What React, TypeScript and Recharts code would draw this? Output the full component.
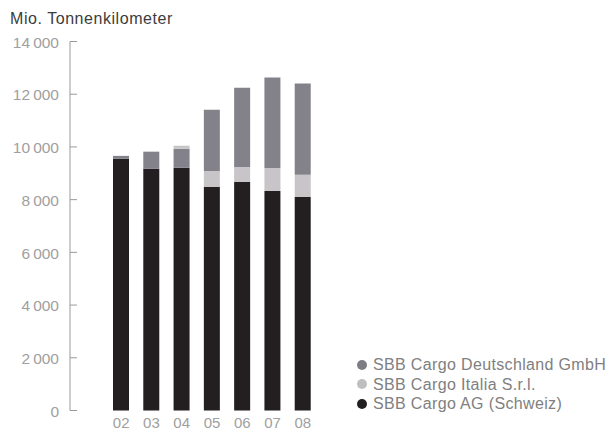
import React from 'react';
import { BarChart, Bar, XAxis, YAxis } from 'recharts';

const years = ['02', '03', '04', '05', '06', '07', '08'];
const schweiz = [9550, 9170, 9210, 8480, 8670, 8330, 8100];
const italia = [0, 0, 0, 610, 570, 870, 840];
const deutschland = [110, 650, 720, 2320, 3010, 3430, 3470];
const italiaTop = [0, 0, 115, 0, 0, 0, 0];
const yTicks = [0, 2000, 4000, 6000, 8000, 10000, 12000, 14000];

const seriesNames = ['SBB Cargo Deutschland GmbH', 'SBB Cargo Italia S.r.l.', 'SBB Cargo AG (Schweiz)'];
const COLORS = { schweiz: '#231f20', italia: '#c7c5c7', deutschland: '#838189' };
const legendColors = ['#7e7d83', '#c0bfc0', '#231f20'];

const data = years.map((y, i) => ({
  year: y,
  schweiz: schweiz[i],
  italia: italia[i],
  deutschland: deutschland[i],
  italiaTop: italiaTop[i],
}));

const FONT = '"Liberation Sans", Arial, sans-serif';

const fmt = (v: number) => {
  const s = String(v);
  if (s.length <= 3) return s;
  return s.slice(0, s.length - 3) + '\u2009' + s.slice(s.length - 3);
};

const YTick = (props: any) => {
  const { x, y, payload } = props;
  return (
    <g>
      <line x1={x} x2={x + 7} y1={y} y2={y} stroke="#9a9a9a" strokeWidth={1} />
      <text x={x - 11} y={y} dy="0.4em" textAnchor="end" fill="#a0a0a0" fontSize={15.5} fontFamily={FONT}>
        {fmt(payload.value)}
      </text>
    </g>
  );
};

const XTick = (props: any) => {
  const { x, y, payload } = props;
  return (
    <text x={x} y={y} textAnchor="middle" fill="#a0a0a0" fontSize={15} fontFamily={FONT}>
      {payload.value}
    </text>
  );
};

const LegendBlock = () => (
  <div
    style={{
      position: 'absolute',
      left: 357,
      top: 355,
      fontFamily: FONT,
      fontSize: 16,
      letterSpacing: 0.35,
      color: '#808080',
      lineHeight: '19.5px',
    }}
  >
    {seriesNames.map((n, i) => (
      <div key={n} style={{ display: 'flex', alignItems: 'center', whiteSpace: 'nowrap' }}>
        <span
          style={{
            display: 'inline-block',
            width: 10,
            height: 10,
            borderRadius: 5,
            background: legendColors[i],
            marginRight: 6,
          }}
        />
        {n}
      </div>
    ))}
  </div>
);

export default function App() {
  return (
    <div style={{ position: 'absolute', left: 0, top: 0, width: 607, height: 432 }}>
      <div
        style={{
          position: 'absolute',
          left: 10,
          top: 10,
          fontFamily: FONT,
          fontSize: 16,
          letterSpacing: 0.55,
          color: '#3c3c3c',
          whiteSpace: 'nowrap',
        }}
      >
        Mio. Tonnenkilometer
      </div>
      <BarChart
        width={607}
        height={432}
        data={data}
        margin={{ top: 41.5, right: 289, bottom: 0, left: 0 }}
        barSize={16}
        style={{ position: 'absolute', left: 0, top: 0 }}
      >
        <XAxis
          dataKey="year"
          axisLine={false}
          tickLine={false}
          padding={{ left: 36, right: 0 }}
          height={21.5}
          tickSize={0}
          tickMargin={17}
          tick={<XTick />}
          interval={0}
        />
        <YAxis
          width={70}
          domain={[0, 14000]}
          ticks={yTicks}
          interval={0}
          tickSize={0}
          tickMargin={0}
          tickLine={false}
          axisLine={{ stroke: '#9a9a9a', strokeWidth: 1 }}
          tick={<YTick />}
        />
        <Bar dataKey="schweiz" stackId="a" fill={COLORS.schweiz} isAnimationActive={false} name={seriesNames[2]} />
        <Bar dataKey="italia" stackId="a" fill={COLORS.italia} isAnimationActive={false} name={seriesNames[1]} />
        <Bar dataKey="deutschland" stackId="a" fill={COLORS.deutschland} isAnimationActive={false} name={seriesNames[0]} />
        <Bar dataKey="italiaTop" stackId="a" fill={COLORS.italia} isAnimationActive={false} legendType="none" />
      </BarChart>
      <LegendBlock />
    </div>
  );
}
